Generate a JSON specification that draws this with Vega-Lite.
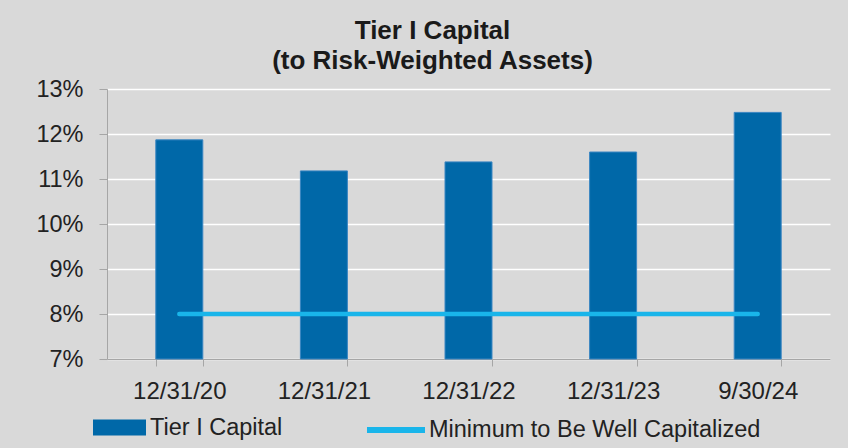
{
  "$schema": "https://vega.github.io/schema/vega-lite/v6.json",
  "width": 723,
  "height": 270,
  "autosize": {"type": "none"},
  "padding": {"left": 107, "top": 89, "right": 18, "bottom": 89},
  "background": "#d9d9d9",
  "title": {
    "text": ["Tier I Capital", "(to Risk-Weighted Assets)"],
    "font": "Liberation Sans",
    "fontSize": 26,
    "fontWeight": "bold",
    "color": "#1a1a1a",
    "lineHeight": 30,
    "anchor": "middle",
    "frame": "group",
    "dx": -36,
    "offset": 3
  },
  "data": {
    "values": [
      {"date": "12/31/20", "tier1": 0.1187, "minimum": 0.08, "s1": "Tier I Capital", "s2": "Minimum to Be Well Capitalized"},
      {"date": "12/31/21", "tier1": 0.1118, "minimum": 0.08, "s1": "Tier I Capital", "s2": "Minimum to Be Well Capitalized"},
      {"date": "12/31/22", "tier1": 0.1138, "minimum": 0.08, "s1": "Tier I Capital", "s2": "Minimum to Be Well Capitalized"},
      {"date": "12/31/23", "tier1": 0.1160, "minimum": 0.08, "s1": "Tier I Capital", "s2": "Minimum to Be Well Capitalized"},
      {"date": "9/30/24", "tier1": 0.1248, "minimum": 0.08, "s1": "Tier I Capital", "s2": "Minimum to Be Well Capitalized"}
    ]
  },
  "encoding": {
    "x": {
      "field": "date",
      "type": "nominal",
      "sort": null,
      "scale": {"paddingInner": 0.675, "paddingOuter": 0.3375},
      "axis": {
        "title": null,
        "labelAngle": 0,
        "labelFont": "Liberation Sans",
        "labelFontSize": 24,
        "labelColor": "#222222",
        "labelPadding": 13,
        "tickBand": "extent",
        "tickSize": 7,
        "tickColor": "#a6a6a6",
        "domainColor": "#a6a6a6",
        "grid": false
      }
    }
  },
  "layer": [
    {
      "mark": {"type": "bar", "color": "#0068a8", "stroke": "#3a86c2", "strokeWidth": 1},
      "encoding": {
        "y": {
          "field": "tier1",
          "type": "quantitative",
          "scale": {"domain": [0.07, 0.13], "nice": false, "zero": false},
          "axis": {
            "title": null,
            "values": [0.07, 0.08, 0.09, 0.10, 0.11, 0.12, 0.13],
            "format": ".0%",
            "labelFont": "Liberation Sans",
            "labelFontSize": 23.5,
            "labelColor": "#222222",
            "labelPadding": 16,
            "tickSize": 8,
            "tickColor": "#a6a6a6",
            "domainColor": "#a6a6a6",
            "gridColor": "#ffffff",
            "gridWidth": 1.5,
            "gridOpacity": 1
          }
        },
        "y2": {"datum": 0.07},
        "fill": {
          "field": "s1",
          "type": "nominal",
          "scale": {"range": ["#0068a8"]},
          "legend": {
            "orient": "none",
            "legendX": -14,
            "legendY": 312,
            "title": null,
            "symbolType": "M-1,-0.3H1V0.3H-1Z",
            "symbolSize": 2809,
            "symbolStrokeWidth": 0,
            "labelFont": "Liberation Sans",
            "labelFontSize": 23.5,
            "labelColor": "#222222",
            "labelOffset": 4,
            "labelLimit": 0,
            "padding": 0
          }
        }
      }
    },
    {
      "mark": {"type": "line", "strokeWidth": 4.5, "strokeCap": "round"},
      "encoding": {
        "y": {"field": "minimum", "type": "quantitative"},
        "stroke": {
          "field": "s2",
          "type": "nominal",
          "scale": {"range": ["#19b5ea"]},
          "legend": {
            "orient": "none",
            "legendX": 260,
            "legendY": 312,
            "title": null,
            "symbolType": "M-1,-0.04H1V0.04H-1Z",
            "symbolSize": 2916,
            "symbolStrokeWidth": 4,
            "labelFont": "Liberation Sans",
            "labelFontSize": 23.5,
            "labelColor": "#222222",
            "labelOffset": 4,
            "labelLimit": 0,
            "padding": 0
          }
        }
      }
    }
  ],
  "config": {
    "view": {"stroke": null},
    "axis": {"domainWidth": 1, "tickWidth": 1}
  }
}
